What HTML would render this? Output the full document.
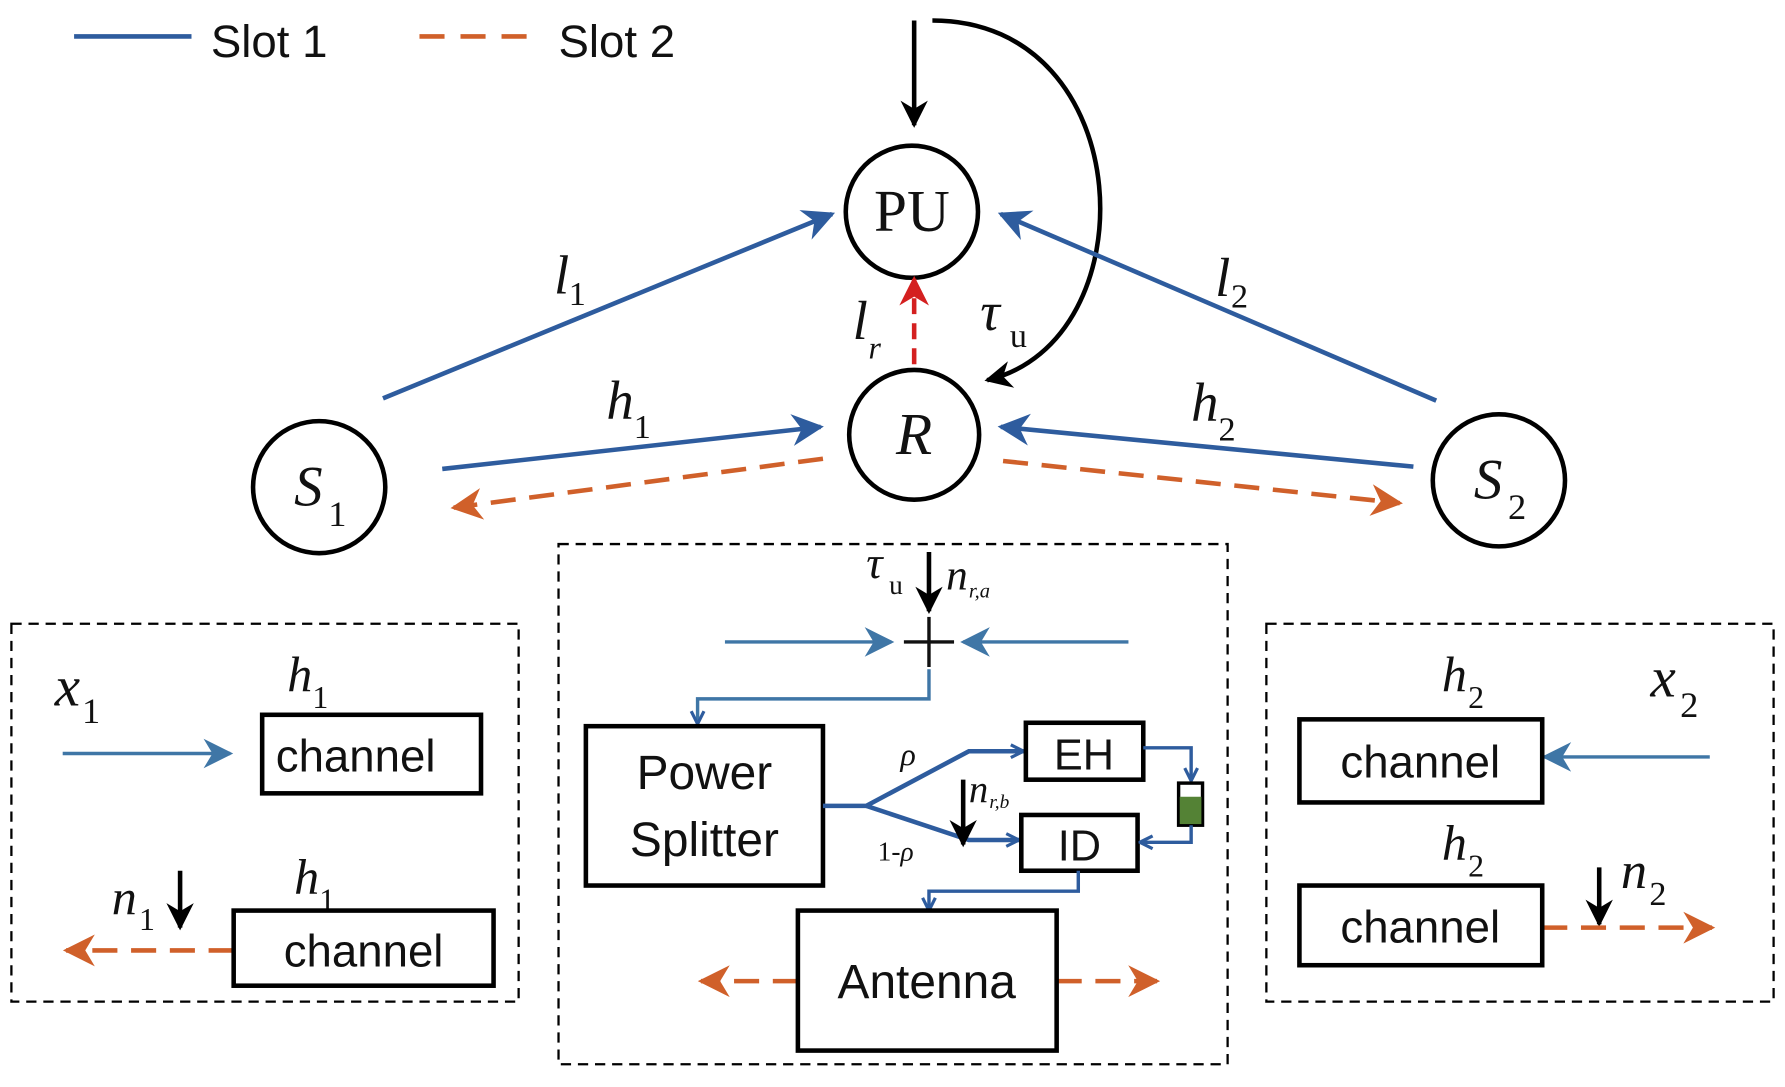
<!DOCTYPE html>
<html><head><meta charset="utf-8"><style>html,body{margin:0;padding:0;background:#fff}svg{display:block}
.s{font-family:"Liberation Sans",sans-serif;fill:#111}
.m{font-family:"Liberation Serif",serif;font-style:italic;fill:#111}
.r{font-family:"Liberation Serif",serif;fill:#111}
</style></head><body>
<svg width="1785" height="1087" viewBox="0 0 1566 955" preserveAspectRatio="none" xmlns="http://www.w3.org/2000/svg">
<defs>
<marker id="ab" viewBox="0 0 10 10" refX="9" refY="5" markerWidth="34" markerHeight="28" markerUnits="userSpaceOnUse" orient="auto"><path d="M0,0 L10,5 L0,10 L3,5z" fill="#2e5c9e"/></marker>
<marker id="as" viewBox="0 0 10 10" refX="9" refY="5" markerWidth="30" markerHeight="26" markerUnits="userSpaceOnUse" orient="auto"><path d="M0,0 L10,5 L0,10 L3,5z" fill="#3f76a6"/></marker>
<marker id="ao" viewBox="0 0 10 10" refX="9" refY="5" markerWidth="32" markerHeight="28" markerUnits="userSpaceOnUse" orient="auto"><path d="M0,0 L10,5 L0,10 L3,5z" fill="#d0602a"/></marker>
<marker id="ar" viewBox="0 0 10 10" refX="9" refY="5" markerWidth="32" markerHeight="26" markerUnits="userSpaceOnUse" orient="auto"><path d="M0,0 L10,5 L0,10 L3,5z" fill="#d42020"/></marker>
<marker id="ak" viewBox="0 0 10 10" refX="9" refY="5" markerWidth="30" markerHeight="24" markerUnits="userSpaceOnUse" orient="auto"><path d="M0,0 L10,5 L0,10 L3,5z" fill="#000"/></marker>
<marker id="av" viewBox="0 0 10 10" refX="9" refY="5" markerWidth="14" markerHeight="16" markerUnits="userSpaceOnUse" orient="auto"><path d="M1,1 L9,5 L1,9" fill="none" stroke="#2e5c9e" stroke-width="2"/></marker>
</defs>
<!-- legend -->
<line x1="65" y1="32" x2="168" y2="32" stroke="#2e5c9e" stroke-width="4"/>
<text x="185" y="50" class="s" font-size="40">Slot 1</text>
<line x1="368" y1="32" x2="470" y2="32" stroke="#d0602a" stroke-width="4" stroke-dasharray="22,14"/>
<text x="490" y="50" class="s" font-size="40">Slot 2</text>
<!-- circles -->
<g fill="none" stroke="#000" stroke-width="4">
<circle cx="800" cy="186" r="58"/><circle cx="802" cy="382" r="57"/>
<circle cx="280" cy="428" r="58"/><circle cx="1315" cy="422" r="58"/>
</g>
<text x="800" y="203" class="r" font-size="52" text-anchor="middle">PU</text>
<text x="802" y="399" class="m" font-size="52" text-anchor="middle">R</text>
<text x="258" y="444" class="m" font-size="50">S</text><text x="288" y="462" class="r" font-size="32">1</text>
<text x="1293" y="438" class="m" font-size="50">S</text><text x="1323" y="456" class="r" font-size="32">2</text>
<!-- black arrows -->
<line x1="802" y1="18" x2="802" y2="110" stroke="#000" stroke-width="4" marker-end="url(#ak)"/>
<path d="M818,18 C1000,18 1010,300 866,334" fill="none" stroke="#000" stroke-width="4" marker-end="url(#ak)"/>
<!-- blue lines -->
<g stroke="#2e5c9e" stroke-width="4" marker-end="url(#ab)">
<line x1="336" y1="350" x2="730" y2="188"/>
<line x1="1260" y1="352" x2="878" y2="188"/>
<line x1="388" y1="412" x2="720" y2="375"/>
<line x1="1240" y1="410" x2="878" y2="375"/>
</g>
<g stroke="#d0602a" stroke-width="4" stroke-dasharray="22,12" marker-end="url(#ao)">
<line x1="722" y1="403" x2="398" y2="446"/>
<line x1="880" y1="405" x2="1228" y2="442"/>
</g>
<line x1="802" y1="320" x2="802" y2="245" stroke="#d42020" stroke-width="4" stroke-dasharray="14,8" marker-end="url(#ar)"/>
<!-- labels -->
<text x="486" y="258" class="m" font-size="48">l</text><text x="499" y="268" class="r" font-size="30">1</text>
<text x="1066" y="260" class="m" font-size="48">l</text><text x="1080" y="270" class="r" font-size="30">2</text>
<text x="748" y="298" class="m" font-size="48">l</text><text x="762" y="315" class="m" font-size="28">r</text>
<text x="860" y="290" class="m" font-size="48">τ</text><text x="886" y="305" class="r" font-size="30">u</text>
<text x="532" y="368" class="m" font-size="48">h</text><text x="556" y="385" class="r" font-size="30">1</text>
<text x="1045" y="370" class="m" font-size="48">h</text><text x="1069" y="387" class="r" font-size="30">2</text>
<!-- left box -->
<rect x="10" y="548" width="445" height="332" fill="none" stroke="#000" stroke-width="2" stroke-dasharray="9,6"/>
<text x="48" y="620" class="m" font-size="50">x</text><text x="72" y="635" class="r" font-size="32">1</text>
<text x="252" y="607" class="m" font-size="44">h</text><text x="274" y="622" class="r" font-size="28">1</text>
<line x1="55" y1="662" x2="202" y2="662" stroke="#3f76a6" stroke-width="3" marker-end="url(#as)"/>
<rect x="230" y="628" width="192" height="69" fill="none" stroke="#000" stroke-width="4"/>
<text x="312" y="678" class="s" font-size="40" text-anchor="middle">channel</text>
<text x="98" y="803" class="m" font-size="44">n</text><text x="122" y="817" class="r" font-size="28">1</text>
<line x1="158" y1="765" x2="158" y2="815" stroke="#000" stroke-width="4" marker-end="url(#ak)"/>
<text x="258" y="785" class="m" font-size="44">h</text><text x="280" y="800" class="r" font-size="28">1</text>
<line x1="205" y1="835" x2="58" y2="835" stroke="#d0602a" stroke-width="4" stroke-dasharray="22,12" marker-end="url(#ao)"/>
<rect x="205" y="800" width="228" height="66" fill="#fff" stroke="#000" stroke-width="4"/>
<text x="319" y="849" class="s" font-size="40" text-anchor="middle">channel</text>
<!-- center box -->
<rect x="490" y="478" width="587" height="457" fill="none" stroke="#000" stroke-width="2" stroke-dasharray="9,6"/>
<text x="760" y="508" class="m" font-size="40">τ</text><text x="780" y="522" class="r" font-size="24">u</text>
<line x1="815" y1="485" x2="815" y2="537" stroke="#000" stroke-width="4" marker-end="url(#ak)"/>
<text x="830" y="518" class="m" font-size="38">n</text><text x="850" y="525" class="m" font-size="18">r,a</text>
<line x1="793" y1="564" x2="837" y2="564" stroke="#111" stroke-width="3"/>
<line x1="815" y1="542" x2="815" y2="586" stroke="#111" stroke-width="3"/>
<line x1="636" y1="564" x2="782" y2="564" stroke="#3f76a6" stroke-width="3" marker-end="url(#as)"/>
<line x1="990" y1="564" x2="845" y2="564" stroke="#3f76a6" stroke-width="3" marker-end="url(#as)"/>
<polyline points="815,588 815,614 612,614 612,636" fill="none" stroke="#3f76a6" stroke-width="3" marker-end="url(#av)"/>
<rect x="514" y="638" width="208" height="140" fill="none" stroke="#000" stroke-width="4"/>
<text x="618" y="693" class="s" font-size="42" text-anchor="middle">Power</text>
<text x="618" y="752" class="s" font-size="42" text-anchor="middle">Splitter</text>
<polyline points="722,708 760,708 850,660 898,660" fill="none" stroke="#2e5c9e" stroke-width="4" marker-end="url(#av)"/>
<polyline points="760,708 850,738 894,738" fill="none" stroke="#2e5c9e" stroke-width="4" marker-end="url(#av)"/>
<text x="790" y="672" class="m" font-size="28">ρ</text>
<text x="770" y="756" class="r" font-size="24">1-<tspan font-style="italic">ρ</tspan></text>
<line x1="845" y1="685" x2="845" y2="742" stroke="#000" stroke-width="4" marker-end="url(#ak)"/>
<text x="850" y="705" class="m" font-size="34">n</text><text x="868" y="710" class="m" font-size="17">r,b</text>
<rect x="900" y="635" width="103" height="50" fill="none" stroke="#000" stroke-width="4"/>
<text x="951" y="676" class="s" font-size="38" text-anchor="middle">EH</text>
<rect x="896" y="716" width="102" height="49" fill="none" stroke="#000" stroke-width="4"/>
<text x="947" y="756" class="s" font-size="38" text-anchor="middle">ID</text>
<polyline points="1003,657 1045,657 1045,686" fill="none" stroke="#2e5c9e" stroke-width="3" marker-end="url(#av)"/>
<rect x="1034" y="688" width="21" height="37" fill="#fff" stroke="#000" stroke-width="3"/>
<rect x="1035" y="700" width="19" height="24" fill="#548235"/>
<polyline points="1045,725 1045,740 1000,740" fill="none" stroke="#2e5c9e" stroke-width="3" marker-end="url(#av)"/>
<polyline points="946,765 946,783 815,783 815,800" fill="none" stroke="#2e5c9e" stroke-width="3" marker-end="url(#av)"/>
<line x1="700" y1="862" x2="615" y2="862" stroke="#d0602a" stroke-width="4" stroke-dasharray="22,12" marker-end="url(#ao)"/>
<line x1="927" y1="862" x2="1015" y2="862" stroke="#d0602a" stroke-width="4" stroke-dasharray="22,12" marker-end="url(#ao)"/>
<rect x="700" y="800" width="227" height="123" fill="#fff" stroke="#000" stroke-width="4"/>
<text x="813" y="877" class="s" font-size="42" text-anchor="middle">Antenna</text>
<!-- right box -->
<rect x="1111" y="548" width="445" height="332" fill="none" stroke="#000" stroke-width="2" stroke-dasharray="9,6"/>
<text x="1265" y="607" class="m" font-size="44">h</text><text x="1288" y="622" class="r" font-size="28">2</text>
<text x="1448" y="612" class="m" font-size="50">x</text><text x="1474" y="630" class="r" font-size="32">2</text>
<line x1="1500" y1="665" x2="1355" y2="665" stroke="#3f76a6" stroke-width="3" marker-end="url(#as)"/>
<rect x="1140" y="632" width="213" height="73" fill="none" stroke="#000" stroke-width="4"/>
<text x="1246" y="683" class="s" font-size="40" text-anchor="middle">channel</text>
<text x="1265" y="755" class="m" font-size="44">h</text><text x="1288" y="770" class="r" font-size="28">2</text>
<line x1="1403" y1="762" x2="1403" y2="812" stroke="#000" stroke-width="4" marker-end="url(#ak)"/>
<text x="1422" y="780" class="m" font-size="46">n</text><text x="1447" y="795" class="r" font-size="30">2</text>
<line x1="1353" y1="815" x2="1502" y2="815" stroke="#d0602a" stroke-width="4" stroke-dasharray="22,12" marker-end="url(#ao)"/>
<rect x="1140" y="778" width="213" height="70" fill="#fff" stroke="#000" stroke-width="4"/>
<text x="1246" y="828" class="s" font-size="40" text-anchor="middle">channel</text>
</svg>
</body></html>
